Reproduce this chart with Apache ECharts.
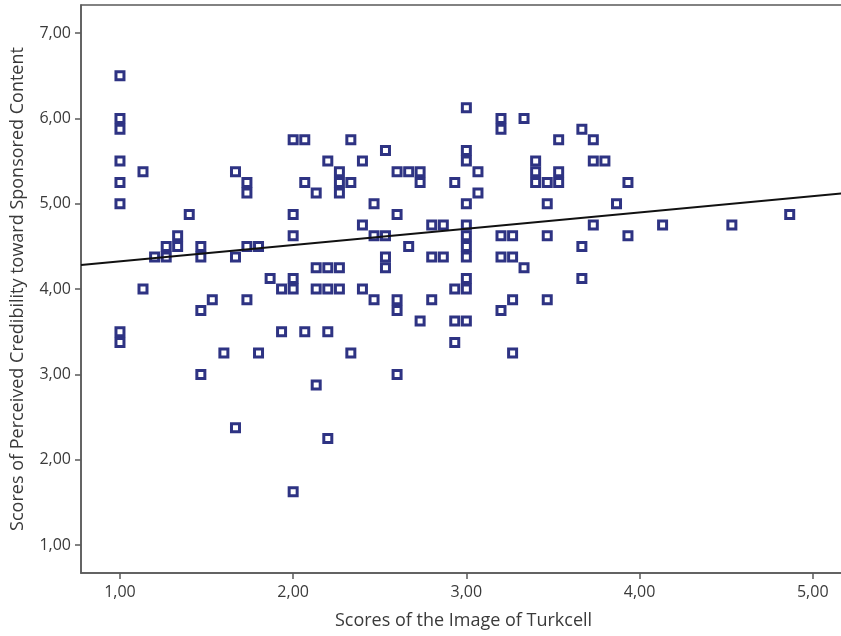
<!DOCTYPE html>
<html>
<head>
<meta charset="utf-8">
<script src="https://cdn.jsdelivr.net/npm/echarts@6.0.0/dist/echarts.min.js"></script>
<style>
  html, body { margin: 0; padding: 0; background: #fff; }
  #chart { width: 841px; height: 636px; }
</style>
</head>
<body>
<div id="chart"></div>
<script>
// x = image score, y = credibility score
const imageScores = [
  1.0, 1.0, 1.0, 1.0, 1.0, 1.0, 1.0, 1.0,
  1.133, 1.133,
  1.2,
  1.267, 1.267,
  1.333, 1.333,
  1.4,
  1.467, 1.467, 1.467, 1.467,
  1.533,
  1.6,
  1.667, 1.667, 1.667,
  1.733, 1.733, 1.733, 1.733,
  1.8, 1.8,
  1.867,
  1.933, 1.933,
  2.0, 2.0, 2.0, 2.0, 2.0, 2.0,
  2.067, 2.067, 2.067,
  2.133, 2.133, 2.133, 2.133,
  2.2, 2.2, 2.2, 2.2, 2.2,
  2.267, 2.267, 2.267, 2.267, 2.267,
  2.333, 2.333, 2.333,
  2.4, 2.4, 2.4,
  2.467, 2.467, 2.467,
  2.533, 2.533, 2.533, 2.533,
  2.6, 2.6, 2.6, 2.6, 2.6,
  2.667, 2.667,
  2.733, 2.733, 2.733,
  2.8, 2.8, 2.8,
  2.867, 2.867,
  2.933, 2.933, 2.933, 2.933,
  3.0, 3.0, 3.0, 3.0, 3.0, 3.0, 3.0, 3.0, 3.0, 3.0, 3.0,
  3.067, 3.067,
  3.2, 3.2, 3.2, 3.2, 3.2,
  3.267, 3.267, 3.267, 3.267,
  3.333, 3.333,
  3.4, 3.4, 3.4,
  3.467, 3.467, 3.467, 3.467,
  3.533, 3.533, 3.533,
  3.667, 3.667, 3.667,
  3.733, 3.733, 3.733,
  3.8,
  3.867,
  3.933, 3.933,
  4.133,
  4.533,
  4.867
];
const credibilityScores = [
  6.5, 6.0, 5.875, 5.5, 5.25, 5.0, 3.5, 3.375,
  5.375, 4.0,
  4.375,
  4.5, 4.375,
  4.625, 4.5,
  4.875,
  4.5, 4.375, 3.75, 3.0,
  3.875,
  3.25,
  5.375, 4.375, 2.375,
  5.25, 5.125, 4.5, 3.875,
  4.5, 3.25,
  4.125,
  4.0, 3.5,
  5.75, 4.875, 4.625, 4.125, 4.0, 1.625,
  5.75, 5.25, 3.5,
  5.125, 4.25, 4.0, 2.875,
  5.5, 4.25, 4.0, 3.5, 2.25,
  5.375, 5.25, 5.125, 4.25, 4.0,
  5.75, 5.25, 3.25,
  5.5, 4.75, 4.0,
  5.0, 4.625, 3.875,
  5.625, 4.625, 4.375, 4.25,
  5.375, 4.875, 3.875, 3.75, 3.0,
  5.375, 4.5,
  5.375, 5.25, 3.625,
  4.75, 4.375, 3.875,
  4.75, 4.375,
  5.25, 4.0, 3.625, 3.375,
  6.125, 5.625, 5.5, 5.0, 4.75, 4.625, 4.5, 4.375, 4.125, 4.0, 3.625,
  5.375, 5.125,
  6.0, 5.875, 4.625, 4.375, 3.75,
  4.625, 4.375, 3.875, 3.25,
  6.0, 4.25,
  5.5, 5.375, 5.25,
  5.25, 5.0, 4.625, 3.875,
  5.75, 5.375, 5.25,
  5.875, 4.5, 4.125,
  5.75, 5.5, 4.75,
  5.5,
  5.0,
  5.25, 4.625,
  4.75,
  4.75,
  4.875
];

// fit line end points (at the axis limits)
const fitX = [0.775, 5.192];
const fitY = [4.281, 5.127];

const tickValues = [1, 2, 3, 4, 5];
const yTickValues = [1, 2, 3, 4, 5, 6, 7];

const NAVY = '#2e3383';
const AXIS = '#5a5a5a';
const TEXT = '#3a3a3a';

const chart = echarts.init(document.getElementById('chart'));

const fmt = v => v.toFixed(2).replace('.', ',');

chart.setOption({
  backgroundColor: '#fff',
  animation: false,
  textStyle: { fontFamily: 'Open Sans, DejaVu Sans, sans-serif' },
  grid: {
    left: 81,
    top: 5,
    right: -5,
    bottom: 63,
    outerBoundsMode: 'none',
    show: true,
    borderColor: AXIS,
    borderWidth: 1.5
  },
  xAxis: {
    type: 'value',
    min: 0.775,
    max: 5.192,
    name: 'Scores of the Image of Turkcell',
    nameLocation: 'middle',
    nameGap: 39,
    nameTextStyle: { fontSize: 18, color: TEXT },
    axisLine: { show: true, lineStyle: { color: AXIS, width: 1.5 } },
    axisTick: {
      show: true,
      length: 6,
      customValues: tickValues,
      lineStyle: { color: AXIS, width: 1.5 }
    },
    axisLabel: {
      customValues: tickValues,
      formatter: fmt,
      fontSize: 16,
      color: TEXT,
      margin: 11
    },
    splitLine: { show: false }
  },
  yAxis: {
    type: 'value',
    min: 0.672,
    max: 7.33,
    name: 'Scores of Perceived Credibility toward Sponsored Content',
    nameLocation: 'middle',
    nameGap: 54,
    nameTextStyle: { fontSize: 18, color: TEXT },
    axisLine: { show: true, lineStyle: { color: AXIS, width: 1.5 } },
    axisTick: {
      show: true,
      length: 6,
      customValues: yTickValues,
      lineStyle: { color: AXIS, width: 1.5 }
    },
    axisLabel: {
      customValues: yTickValues,
      formatter: fmt,
      fontSize: 16,
      color: TEXT,
      margin: 10
    },
    splitLine: { show: false }
  },
  series: [
    {
      type: 'line',
      data: fitX.map((x, i) => [x, fitY[i]]),
      showSymbol: false,
      lineStyle: { color: '#111', width: 2 },
      z: 3
    },
    {
      type: 'scatter',
      data: imageScores.map((x, i) => [x, credibilityScores[i]]),
      symbol: 'rect',
      symbolSize: 8,
      itemStyle: {
        color: '#fff',
        borderColor: NAVY,
        borderWidth: 3,
        opacity: 1
      },
      z: 2
    }
  ]
});
</script>
</body>
</html>
